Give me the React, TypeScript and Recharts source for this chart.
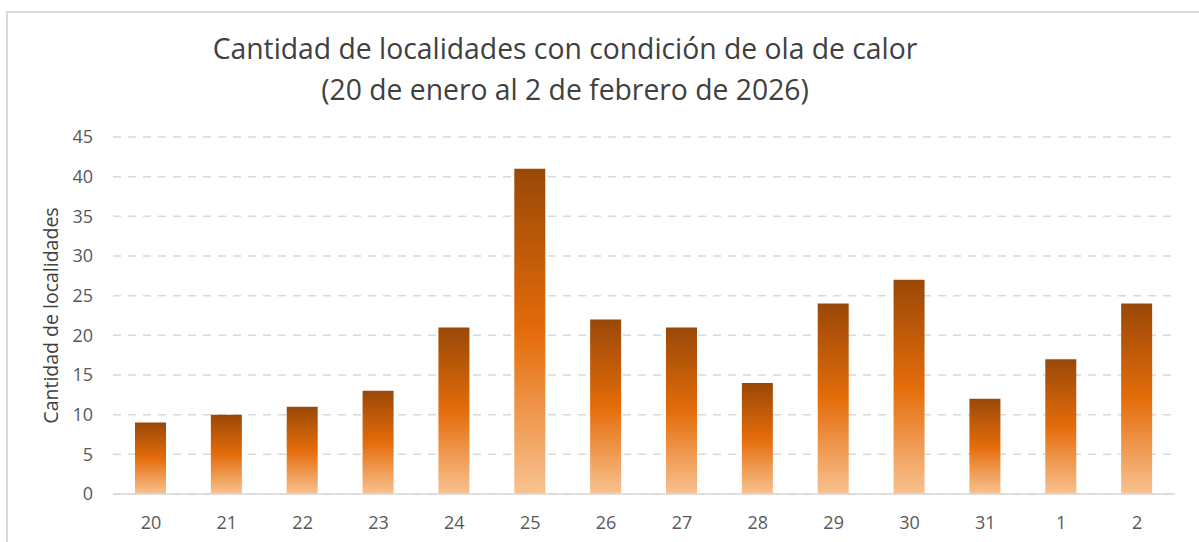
import React from 'react';
import { BarChart, Bar, XAxis, YAxis, CartesianGrid } from 'recharts';

const days = ['20', '21', '22', '23', '24', '25', '26', '27', '28', '29', '30', '31', '1', '2'];
const localidades = [9, 10, 11, 13, 21, 41, 22, 21, 14, 24, 27, 12, 17, 24];
const yTicks = [0, 5, 10, 15, 20, 25, 30, 35, 40, 45];
const titleLines = ['Cantidad de localidades con condición de ola de calor', '(20 de enero al 2 de febrero de 2026)'];
const yAxisTitle = 'Cantidad de localidades';

const data = days.map((d, i) => ({ day: d, value: localidades[i] }));

const FONT = '"Open Sans", sans-serif';

const YLabel = (props: any) => {
  const vb = props.viewBox || {};
  const cx = vb.x + 50;
  const cy = vb.y + vb.height / 2;
  return (
    <text
      x={cx}
      y={cy}
      transform={`rotate(-90, ${cx}, ${cy})`}
      textAnchor="middle"
      dominantBaseline="central"
      fill="#404040"
      fontSize={19.5}
      fontFamily={FONT}
    >
      {yAxisTitle}
    </text>
  );
};

export default function App() {
  return (
    <div style={{ position: 'absolute', left: 0, top: 0, width: 1199, height: 542, background: '#fff', overflow: 'hidden', fontFamily: FONT }}>
      <div style={{ position: 'absolute', left: 6, top: 11, width: 1193, height: 531, borderTop: '2px solid #D9D9D9', borderLeft: '2px solid #D9D9D9', boxSizing: 'border-box' }} />
      <div style={{ position: 'absolute', left: 0, top: 28, width: 1130, textAlign: 'center', color: '#404040', fontSize: 28.3, lineHeight: '41px' }}>
        <div>{titleLines[0]}</div>
        <div>{titleLines[1]}</div>
      </div>
      <div style={{ position: 'absolute', left: 0, top: 0 }}>
        <BarChart width={1199} height={542} data={data} margin={{ top: 137, right: 24, bottom: 18, left: 0 }} barCategoryGap={0}>
          <defs>
            <linearGradient id="barGrad" x1="0" y1="0" x2="0" y2="1">
              <stop offset="0%" stopColor="#9A4807" />
              <stop offset="50%" stopColor="#E46C0A" />
              <stop offset="100%" stopColor="#F9C290" />
            </linearGradient>
          </defs>
          <CartesianGrid vertical={false} stroke="#D9D9D9" strokeDasharray="8 7" strokeWidth={1.5} />
          <XAxis
            dataKey="day"
            height={30}
            axisLine={{ stroke: '#D9D9D9', strokeWidth: 1.5 }}
            tickLine={false}
            tickMargin={16}
            tick={{ fill: '#595959', fontSize: 18, fontFamily: FONT }}
          />
          <YAxis
            width={113}
            domain={[0, 45]}
            ticks={yTicks}
            axisLine={false}
            tickLine={false}
            tickMargin={14}
            tick={{ fill: '#595959', fontSize: 18, fontFamily: FONT }}
            label={<YLabel />}
          />
          <Bar dataKey="value" fill="url(#barGrad)" barSize={31} isAnimationActive={false} />
        </BarChart>
      </div>
    </div>
  );
}
